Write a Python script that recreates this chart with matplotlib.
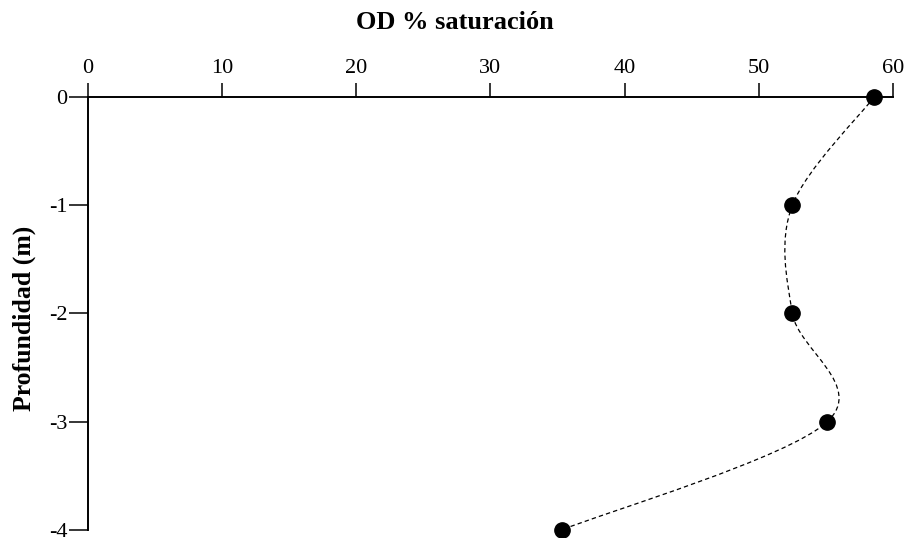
import numpy as np
import matplotlib
matplotlib.use("Agg")
from matplotlib import pyplot as plt
from matplotlib.path import Path
from matplotlib.patches import PathPatch

# datos del perfil
od_sat = [58.6, 52.5, 52.5, 55.1, 35.3]
profundidad = [0, -1, -2, -3, -4]
x_ticks = [0, 10, 20, 30, 40, 50, 60]
y_ticks = [0, -1, -2, -3, -4]

plt.rcParams['font.family'] = ['Liberation Serif', 'DejaVu Serif']
plt.rcParams['axes.unicode_minus'] = False


def smooth_path(xs, ys):
	"""curva suavizada (Catmull-Rom como bezier cubica)"""
	pts = np.column_stack([xs, ys]).astype(float)
	n = len(pts)
	verts = [pts[0]]
	codes = [Path.MOVETO]
	for i in range(n - 1):
		p0 = pts[max(i - 1, 0)]
		p1 = pts[i]
		p2 = pts[i + 1]
		p3 = pts[min(i + 2, n - 1)]
		c1 = p1 + (p2 - p0) / 6.0
		c2 = p2 - (p3 - p1) / 6.0
		verts += [c1, c2, p2]
		codes += [Path.CURVE4] * 3
	return Path(verts, codes)


fig = plt.figure(figsize=(9.09, 5.38), dpi=100)
ax = fig.add_axes([0.0968, 0.0149, 0.8856, 0.8048])

curve = PathPatch(smooth_path(od_sat, profundidad), facecolor='none', edgecolor='black',
                  linewidth=0.9, linestyle=(0, (3.5, 2.5)), clip_on=False)
ax.add_patch(curve)
ax.plot(od_sat, profundidad, 'o', color='black', markersize=11, clip_on=False, zorder=5)

ax.set_xlim(0, 60)
ax.set_ylim(-4, 0)
ax.xaxis.tick_top()
ax.set_xticks(x_ticks)
ax.set_yticks(y_ticks)
ax.set_yticklabels([str(v) for v in y_ticks])
ax.spines['right'].set_visible(False)
ax.spines['bottom'].set_visible(False)
for s in ('top', 'left'):
	ax.spines[s].set_linewidth(1.4)
ax.tick_params(axis='x', direction='out', length=10, width=1.1, labelsize=16, pad=4)
ax.tick_params(axis='y', direction='out', length=14, width=1.1, labelsize=16, pad=1)

fig.text(24 / 909, 1 - 318 / 538, 'Profundidad (m)', rotation=90, ha='center', va='center',
         fontsize=18.5, fontweight='bold')
fig.text(0.5, 1 - 29 / 538, 'OD % saturación', ha='center', va='baseline',
         fontsize=19, fontweight='bold')

plt.savefig('out.png', dpi=100)
